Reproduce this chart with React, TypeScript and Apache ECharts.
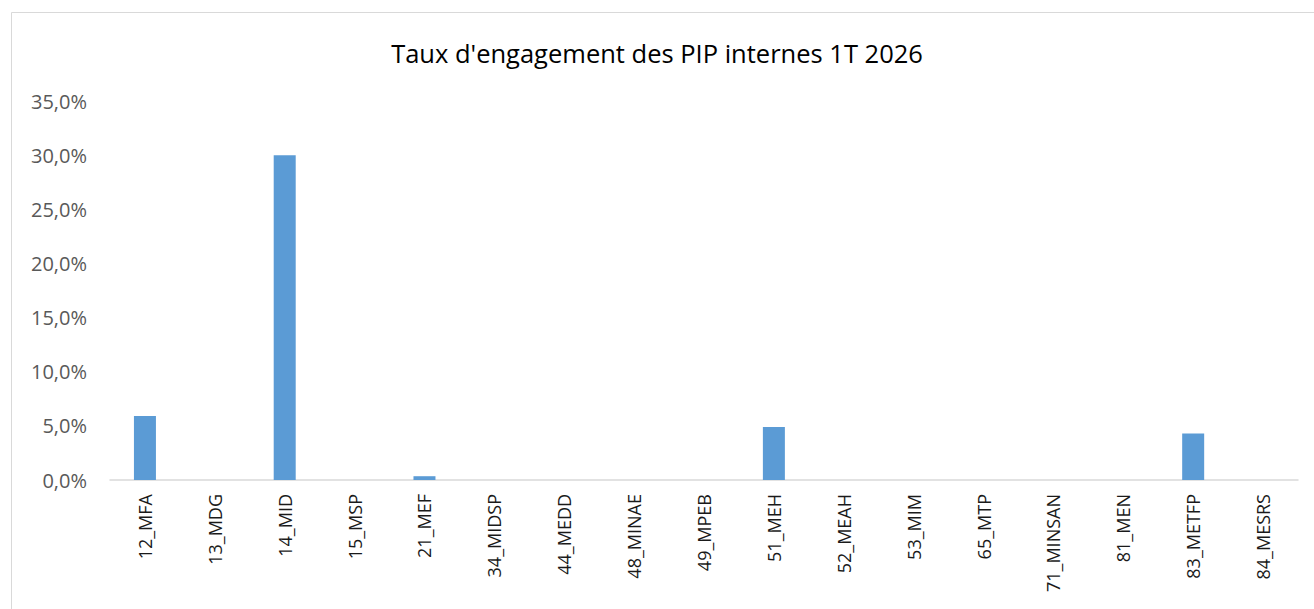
import React, { useEffect, useRef } from "react";
import * as echarts from "echarts";

const TITLE = "Taux d'engagement des PIP internes 1T 2026";
const categories = [
  "12_MFA", "13_MDG", "14_MID", "15_MSP", "21_MEF", "34_MIDSP", "44_MEDD", "48_MINAE",
  "49_MPEB", "51_MEH", "52_MEAH", "53_MIM", "65_MTP", "71_MINSAN", "81_MEN", "83_METFP", "84_MESRS",
];
const rates = [5.9, 0, 30.0, 0, 0.35, 0, 0, 0, 0, 4.9, 0, 0, 0, 0, 0, 4.3, 0];
const yTicks = { min: 0, max: 35, interval: 5 };

export default function App() {
  const ref = useRef<HTMLDivElement>(null);
  useEffect(() => {
    if (!ref.current) return;
    const chart = echarts.init(ref.current, null, { renderer: "svg" });
    chart.setOption({
      animation: false,
      backgroundColor: "#ffffff",
      title: {
        text: TITLE,
        left: "center",
        top: 35,
        textStyle: { fontFamily: "Open Sans", fontSize: 25.5, fontWeight: "normal", color: "#000000" },
      },
      graphic: [
        {
          type: "rect",
          shape: { x: 11.5, y: 12.5, width: 1320, height: 620 },
          style: { fill: "none", stroke: "#d9d9d9", lineWidth: 1 },
          silent: true,
        },
      ],
      grid: { left: 110, right: 16, top: 101, bottom: 129, containLabel: false },
      xAxis: {
        type: "category",
        data: categories,
        axisLine: { lineStyle: { color: "#d9d9d9", width: 1.5 } },
        axisTick: { show: false },
        axisLabel: {
          rotate: 90,
          interval: 0,
          margin: 14,
          fontFamily: "Open Sans",
          fontSize: 18,
          color: "#1a1a1a",
        },
      },
      yAxis: {
        type: "value",
        min: yTicks.min,
        max: yTicks.max,
        interval: yTicks.interval,
        splitLine: { show: false },
        axisLine: { show: false },
        axisTick: { show: false },
        axisLabel: {
          margin: 23,
          fontFamily: "Open Sans",
          fontSize: 20,
          color: "#595959",
          formatter: (v: number) => v.toFixed(1).replace(".", ",") + "%",
        },
      },
      series: [
        {
          type: "bar",
          data: rates,
          barWidth: 22,
          itemStyle: { color: "#5b9bd5" },
        },
      ],
    });
    return () => chart.dispose();
  }, []);
  return (
    <div
      ref={ref}
      style={{ position: "absolute", left: 0, top: 0, width: 1314, height: 609 }}
    />
  );
}
